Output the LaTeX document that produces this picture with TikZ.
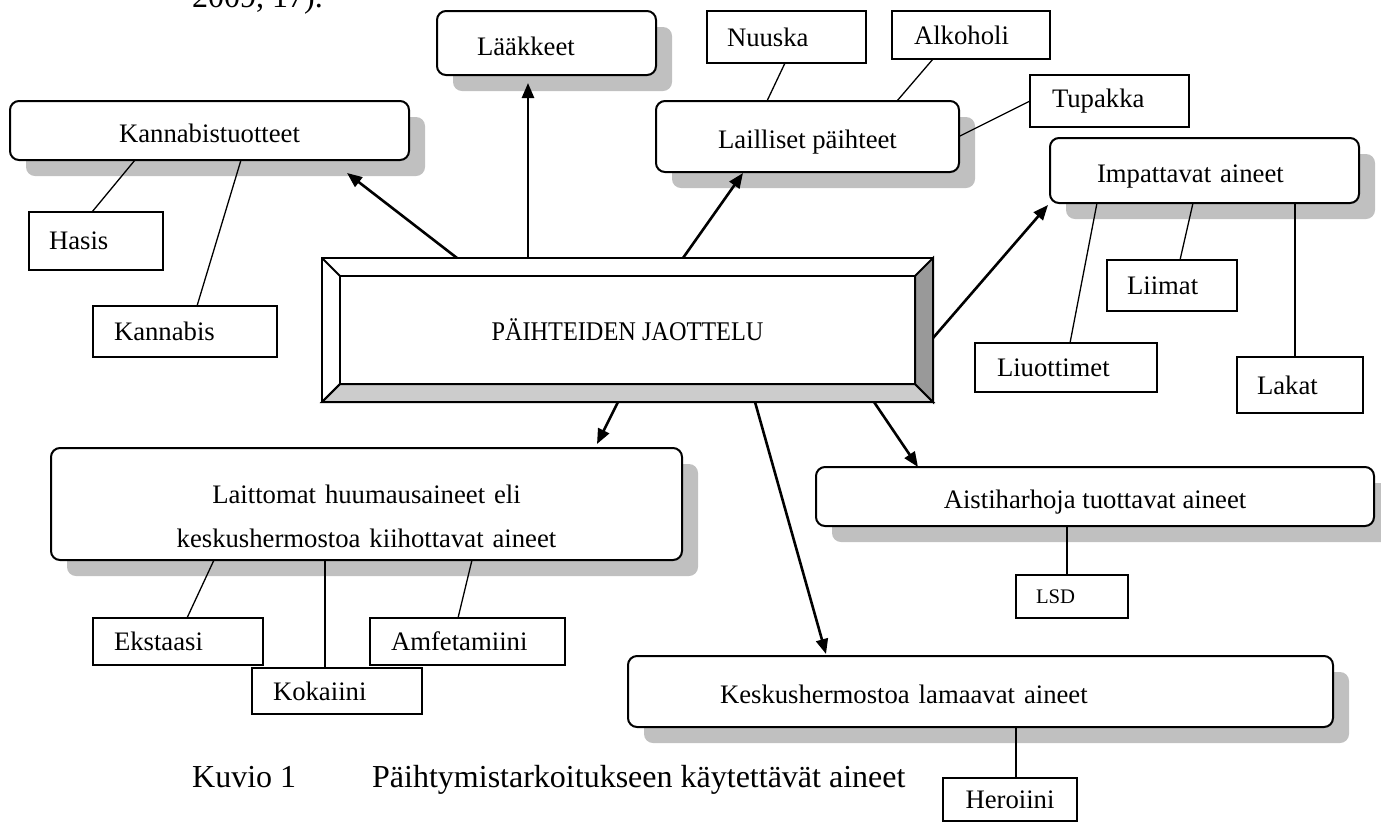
\documentclass[tikz,border=0pt]{standalone}
\usepackage{fontspec}
\setmainfont{Liberation Serif}
\newfontfamily\capfont[FakeStretch=0.9]{Liberation Serif}
\usetikzlibrary{arrows.meta,calc,shadows}
\definecolor{pdedge}{RGB}{0,0,0}
\definecolor{pdshadow}{RGB}{192,192,192}
\definecolor{pdlight}{RGB}{204,204,204}
\definecolor{pddark}{RGB}{153,153,153}
\tikzset{
  lbl/.style={font=\fontsize{26.7}{32}\selectfont},
  rbox/.style={
    draw=pdedge, line width=2pt, rounded corners=9pt, fill=white,
    inner sep=0pt, outer sep=0pt, lbl, text height=24pt, text depth=0pt,
    drop shadow={opacity=1, fill=pdshadow, shadow xshift=16pt, shadow yshift=-16pt}
  },
  sbox/.style={draw=pdedge, line width=1.6pt, fill=white, inner sep=0pt, outer sep=0pt, lbl},
  lft/.style={text width=#1, align=left},
  link/.style={draw=pdedge, line width=1.3pt},
  arr/.style={-{Triangle[length=15pt,width=12pt]}, draw=pdedge, line width=2.6pt},
  bevel/.style={draw=pdedge, line width=2pt, line join=miter},
  captext/.style={font=\fontsize{32}{38}\selectfont, inner sep=0pt, anchor=base west}
}

\begin{document}
\begin{tikzpicture}[x=1pt, y=-1pt]
  \useasboundingbox (0,0) rectangle (1381,823);
  \node[captext] (lahde) at (192,7) {2009, 17).};

  % keskimmainen laatikko
  \node[draw=pdedge, line width=2pt, minimum width=611pt, minimum height=144pt,
        inner sep=0pt, outer sep=0pt, font=\capfont\fontsize{27}{32}\selectfont]
        (jako) at (627.5,330) {PÄIHTEIDEN JAOTTELU};
  \coordinate (jnw) at ($(jako.north west)+(18,18)$);
  \coordinate (jne) at ($(jako.north east)+(-18,18)$);
  \coordinate (jse) at ($(jako.south east)+(-18,-18)$);
  \coordinate (jsw) at ($(jako.south west)+(18,-18)$);
  \filldraw[bevel, fill=pdlight] (jako.south west) -- (jako.south east) -- (jse) -- (jsw) -- cycle;
  \filldraw[bevel, fill=pddark] (jako.north east) -- (jako.south east) -- (jse) -- (jne) -- cycle;
  \draw[bevel] (jako.north west) -- (jnw) (jako.south west) -- (jsw);
  \draw[bevel] (jnw) rectangle (jse);

  % ryhmat
  \node[rbox, minimum width=399pt, minimum height=59pt] (kantuote) at (209.5,130.5) {Kannabistuotteet};
  \node[rbox, minimum width=219pt, minimum height=64pt, lft=139pt] (laake) at (546.5,43) {Lääkkeet};
  \node[rbox, minimum width=303pt, minimum height=71pt] (laill) at (807.5,136.5) {Lailliset päihteet};
  \node[rbox, minimum width=309pt, minimum height=65pt, lft=215pt] (impat) at (1204.5,170.5) {Impattavat aineet};
  \node[rbox, minimum width=631pt, minimum height=112pt, text width=600pt, align=center,
        text height=18pt, text depth=20pt] (laitt) at (366.5,504)
        {Laittomat huumausaineet eli\\[12pt] keskushermostoa kiihottavat aineet};
  \node[rbox, minimum width=558pt, minimum height=59pt] (aisti) at (1095,496.5) {Aistiharhoja tuottavat aineet};
  \node[rbox, minimum width=705pt, minimum height=71pt, lft=521pt] (keskus) at (980.5,691.5) {Keskushermostoa lamaavat aineet};

  % aineet
  \node[sbox, minimum width=134pt, minimum height=58pt, lft=94pt] (hasis) at (96,241) {Hasis};
  \node[sbox, minimum width=184pt, minimum height=51pt, lft=142pt] (kannab) at (185,331.5) {Kannabis};
  \node[sbox, minimum width=159pt, minimum height=52pt, lft=119pt] (nuuska) at (786.5,37) {Nuuska};
  \node[sbox, minimum width=158pt, minimum height=48pt, lft=114pt] (alko) at (971,35) {Alkoholi};
  \node[sbox, minimum width=159pt, minimum height=52pt, lft=115pt] (tupakka) at (1109.5,101) {Tupakka};
  \node[sbox, minimum width=182pt, minimum height=49pt, lft=138pt] (liuot) at (1066,367.5) {Liuottimet};
  \node[sbox, minimum width=130pt, minimum height=51pt, lft=90pt] (liimat) at (1172,285.5) {Liimat};
  \node[sbox, minimum width=126pt, minimum height=56pt, lft=86pt] (lakat) at (1300,385) {Lakat};
  \node[sbox, minimum width=112pt, minimum height=43pt, lft=72pt,
        font=\fontsize{20.7}{24}\selectfont] (lsd) at (1072,596.5) {LSD};
  \node[sbox, minimum width=170pt, minimum height=47pt, lft=128pt] (ekst) at (178,641.5) {Ekstaasi};
  \node[sbox, minimum width=170pt, minimum height=46pt, lft=128pt] (koka) at (337,691) {Kokaiini};
  \node[sbox, minimum width=195pt, minimum height=47pt, lft=153pt] (amfe) at (467.5,641.5) {Amfetamiini};
  \node[sbox, minimum width=134pt, minimum height=43pt] (hero) at (1010,799.5) {Heroiini};

  % nuolet
  \draw[arr] ([xshift=135pt]jako.north west) -- ([xshift=337pt,yshift=-13pt]kantuote.south west);
  \draw[arr] ([xshift=206pt]jako.north west) -- ([xshift=91pt,yshift=-8pt]laake.south west);
  \draw[arr] ([xshift=361pt]jako.north west) -- ([xshift=87pt,yshift=-1pt]laill.south west);
  \draw[arr] ([yshift=-80pt]jako.north east) -- ([xshift=-2pt,yshift=-2pt]impat.south west);
  \draw[arr] ([xshift=296pt]jako.south west) -- ([xshift=546pt,yshift=4pt]laitt.north west);
  \draw[arr] ([xshift=433pt]jako.south west) -- ([xshift=198pt,yshift=2pt]keskus.north west);
  \draw[arr] ([xshift=552pt]jako.south west) -- ([xshift=102pt]aisti.north west);

  % viivat
  \draw[link] ([xshift=125pt]kantuote.south west) -- ([xshift=63pt]hasis.north west);
  \draw[link] ([xshift=231pt]kantuote.south west) -- ([xshift=104pt]kannab.north west);
  \draw[link] ([xshift=111pt]laill.north west) -- ([xshift=78pt]nuuska.south west);
  \draw[link] ([xshift=241pt]laill.north west) -- ([xshift=41pt]alko.south west);
  \draw[link] (laill.east) -- (tupakka.west);
  \draw[link] ([xshift=47pt]impat.south west) -- ([xshift=95pt]liuot.north west);
  \draw[link] ([xshift=143pt]impat.south west) -- ([xshift=73pt]liimat.north west);
  \draw[link] ([xshift=245pt]impat.south west) -- ([xshift=58pt]lakat.north west);
  \draw[link] ([xshift=251pt]aisti.south west) -- ([xshift=51pt]lsd.north west);
  \draw[link] ([xshift=163pt]laitt.south west) -- ([xshift=94pt]ekst.north west);
  \draw[link] ([xshift=274pt]laitt.south west) -- ([xshift=73pt]koka.north west);
  \draw[link] ([xshift=421pt]laitt.south west) -- ([xshift=88pt]amfe.north west);
  \draw[link] ([xshift=388pt]keskus.south west) -- ([xshift=73pt]hero.north west);

  \node[captext] (kuvio) at (192,787) {Kuvio 1};
  \node[captext] (kuvioteksti) at (372,787) {Päihtymistarkoitukseen käytettävät aineet};
\end{tikzpicture}
\end{document}
